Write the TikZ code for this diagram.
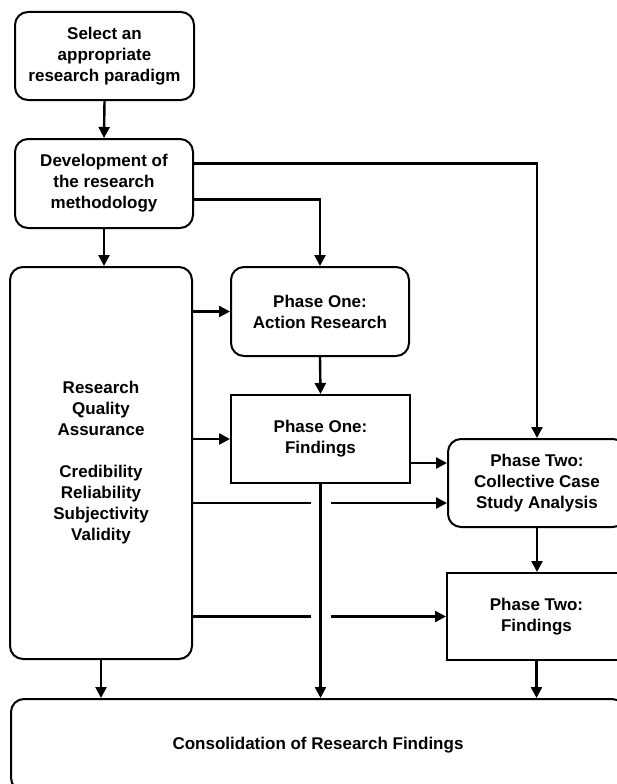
\documentclass[tikz,border=0pt]{standalone}
\usepackage{fontspec}
\setmainfont{Liberation Sans}
\usetikzlibrary{arrows.meta}
\begin{document}
\begin{tikzpicture}[x=1pt,y=-1pt,
  box/.style={draw, line width=2pt, align=center, inner sep=0pt,
              font=\fontsize{17}{21}\selectfont\bfseries},
  rbox/.style={box, rounded corners=13pt},
  sbox/.style={box},
  ln/.style={line width=2.4pt},
  arr/.style={ln, -{Triangle[length=11pt,width=11pt]}}]
\path[use as bounding box, clip] (0,0) rectangle (617,784);
\fill[white] (0,0) rectangle (617,784);

% boxes
\node[rbox, minimum width=179pt, minimum height=88pt] (paradigm) at (104.5,56)
  {Select an\\appropriate\\research paradigm};
\node[rbox, minimum width=178pt, minimum height=89pt] (method) at (104,183.5)
  {Development of\\the research\\methodology};
\node[rbox, minimum width=182pt, minimum height=392pt] (quality) at (101,463)
  {Research\\Quality\\Assurance\\[21pt]Credibility\\Reliability\\Subjectivity\\Validity};
\node[rbox, minimum width=178pt, minimum height=89pt] (action) at (320,311.5)
  {Phase One:\\Action Research};
\node[sbox, minimum width=179pt, minimum height=88pt] (oneres) at (320.5,439)
  {Phase One:\\Findings};
\node[rbox, minimum width=178pt, minimum height=88pt] (casestudy) at (537,483)
  {Phase Two:\\Collective Case\\Study Analysis};
\node[sbox, minimum width=179pt, minimum height=87pt] (twores) at (536.5,616.5)
  {Phase Two:\\Findings};
\node[rbox, minimum width=614pt, minimum height=92pt] (consol) at (318,745)
  {Consolidation of Research Findings};

% entry points on the case study box
\coordinate (csin) at ([yshift=20pt]casestudy.west);
\coordinate (csqa) at ([yshift=-20pt]casestudy.west);

% connectors
\draw[arr] (paradigm.south) -- (method.north);
\draw[arr] ([yshift=20pt]method.east) -| (casestudy.north);
\draw[arr] ([yshift=-16pt]method.east) -| (action.north);
\draw[arr] (method.south) -- (method.south |- quality.north);
\draw[arr] (quality.east |- action.west) -- (action.west);
\draw[arr] (action.south) -- (oneres.north);
\draw[arr] (quality.east |- oneres.west) -- (oneres.west);
\draw[arr] (oneres.east |- csin) -- (csin);

% lines from the quality box, broken where they cross the findings line
\draw[ln] (quality.east |- csqa) -- ([xshift=-10pt]oneres.south |- csqa);
\draw[arr] ([xshift=10pt]oneres.south |- csqa) -- (csqa);
\draw[ln] (quality.east |- twores.west) -- ([xshift=-10pt]oneres.south |- twores.west);
\draw[arr] ([xshift=10pt]oneres.south |- twores.west) -- (twores.west);

\draw[arr] (casestudy.south) -- (casestudy.south |- twores.north);
\draw[arr] (quality.south) -- (quality.south |- consol.north);
\draw[arr] (oneres.south) -- (oneres.south |- consol.north);
\draw[arr] (twores.south) -- (twores.south |- consol.north);
\end{tikzpicture}
\end{document}
